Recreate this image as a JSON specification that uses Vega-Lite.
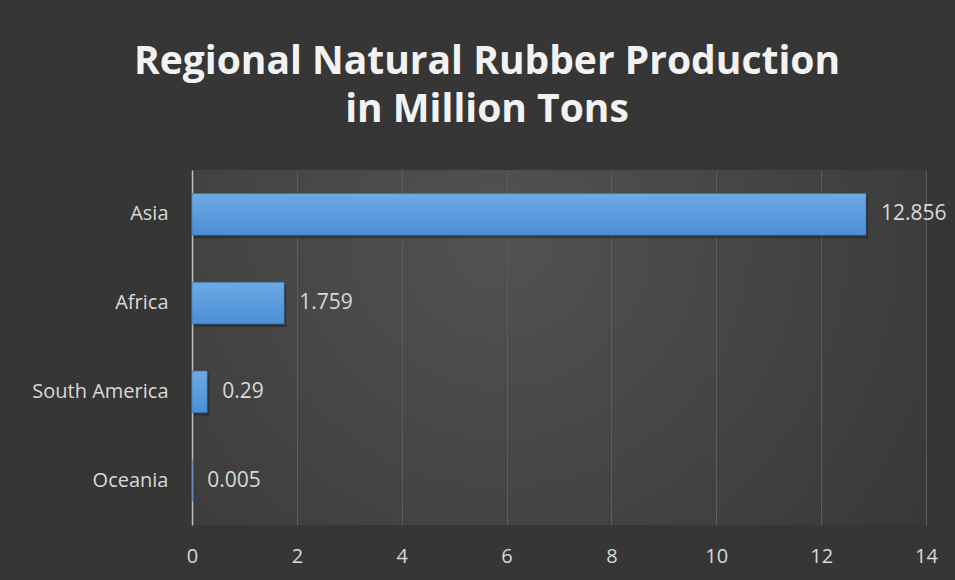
{
  "$schema": "https://vega.github.io/schema/vega-lite/v6.json",
  "autosize": "none",
  "width": 734,
  "height": 355,
  "padding": {"left": 192, "top": 170, "right": 29, "bottom": 55},
  "background": "#363636",
  "title": {
    "text": ["Regional Natural Rubber Production", "in Million Tons"],
    "anchor": "middle",
    "frame": "group",
    "dx": -72,
    "baseline": "alphabetic",
    "offset": 9,
    "lineHeight": 48,
    "font": "Open Sans",
    "fontSize": 39,
    "fontWeight": "bold",
    "color": "#f2f2f2"
  },
  "config": {
    "view": {
      "stroke": null,
      "fill": {
        "gradient": "radial",
        "x1": 0.42, "y1": 0.35, "r1": 0,
        "x2": 0.42, "y2": 0.35, "r2": 0.75,
        "stops": [
          {"offset": 0, "color": "#525252"},
          {"offset": 1, "color": "#363636"}
        ]
      }
    },
    "axis": {
      "labelFont": "Open Sans",
      "labelColor": "#d9d9d9",
      "labelFontSize": 20,
      "ticks": false,
      "tickSize": 0,
      "title": null
    }
  },
  "data": {
    "values": [
      {"region": "Asia", "production": 12.856},
      {"region": "Africa", "production": 1.759},
      {"region": "South America", "production": 0.29},
      {"region": "Oceania", "production": 0.005}
    ]
  },
  "encoding": {
    "y": {
      "field": "region",
      "type": "nominal",
      "sort": ["Asia", "Africa", "South America", "Oceania"],
      "scale": {"paddingInner": 0.53, "paddingOuter": 0.265},
      "axis": {
        "domain": true,
        "domainColor": "#bfbfbf",
        "domainWidth": 1.5,
        "grid": false,
        "labelPadding": 24
      }
    },
    "x": {
      "field": "production",
      "type": "quantitative",
      "scale": {"domain": [0, 14], "nice": false},
      "axis": {
        "values": [0, 2, 4, 6, 8, 10, 12, 14],
        "domain": false,
        "grid": true,
        "gridColor": "#5c5c5c",
        "gridWidth": 1,
        "labelBaseline": "middle",
        "labelPadding": 31,
        "labelFlush": false
      }
    }
  },
  "layer": [
    {
      "mark": {
        "type": "bar",
        "fill": "#1a1a1a",
        "opacity": 0.45,
        "yOffset": 3,
        "xOffset": 2
      }
    },
    {
      "mark": {
        "type": "bar",
        "fill": {
          "gradient": "linear",
          "x1": 0, "y1": 0, "x2": 0, "y2": 1,
          "stops": [
            {"offset": 0, "color": "#6fa9e3"},
            {"offset": 1, "color": "#4a8ed6"}
          ]
        },
        "stroke": "#2f6aa8",
        "strokeWidth": 0.5
      }
    },
    {
      "mark": {
        "type": "text",
        "align": "left",
        "baseline": "middle",
        "dx": 15,
        "font": "Open Sans",
        "fontSize": 21,
        "color": "#d9d9d9"
      },
      "encoding": {
        "text": {"field": "production", "type": "quantitative", "format": ""}
      }
    }
  ]
}
